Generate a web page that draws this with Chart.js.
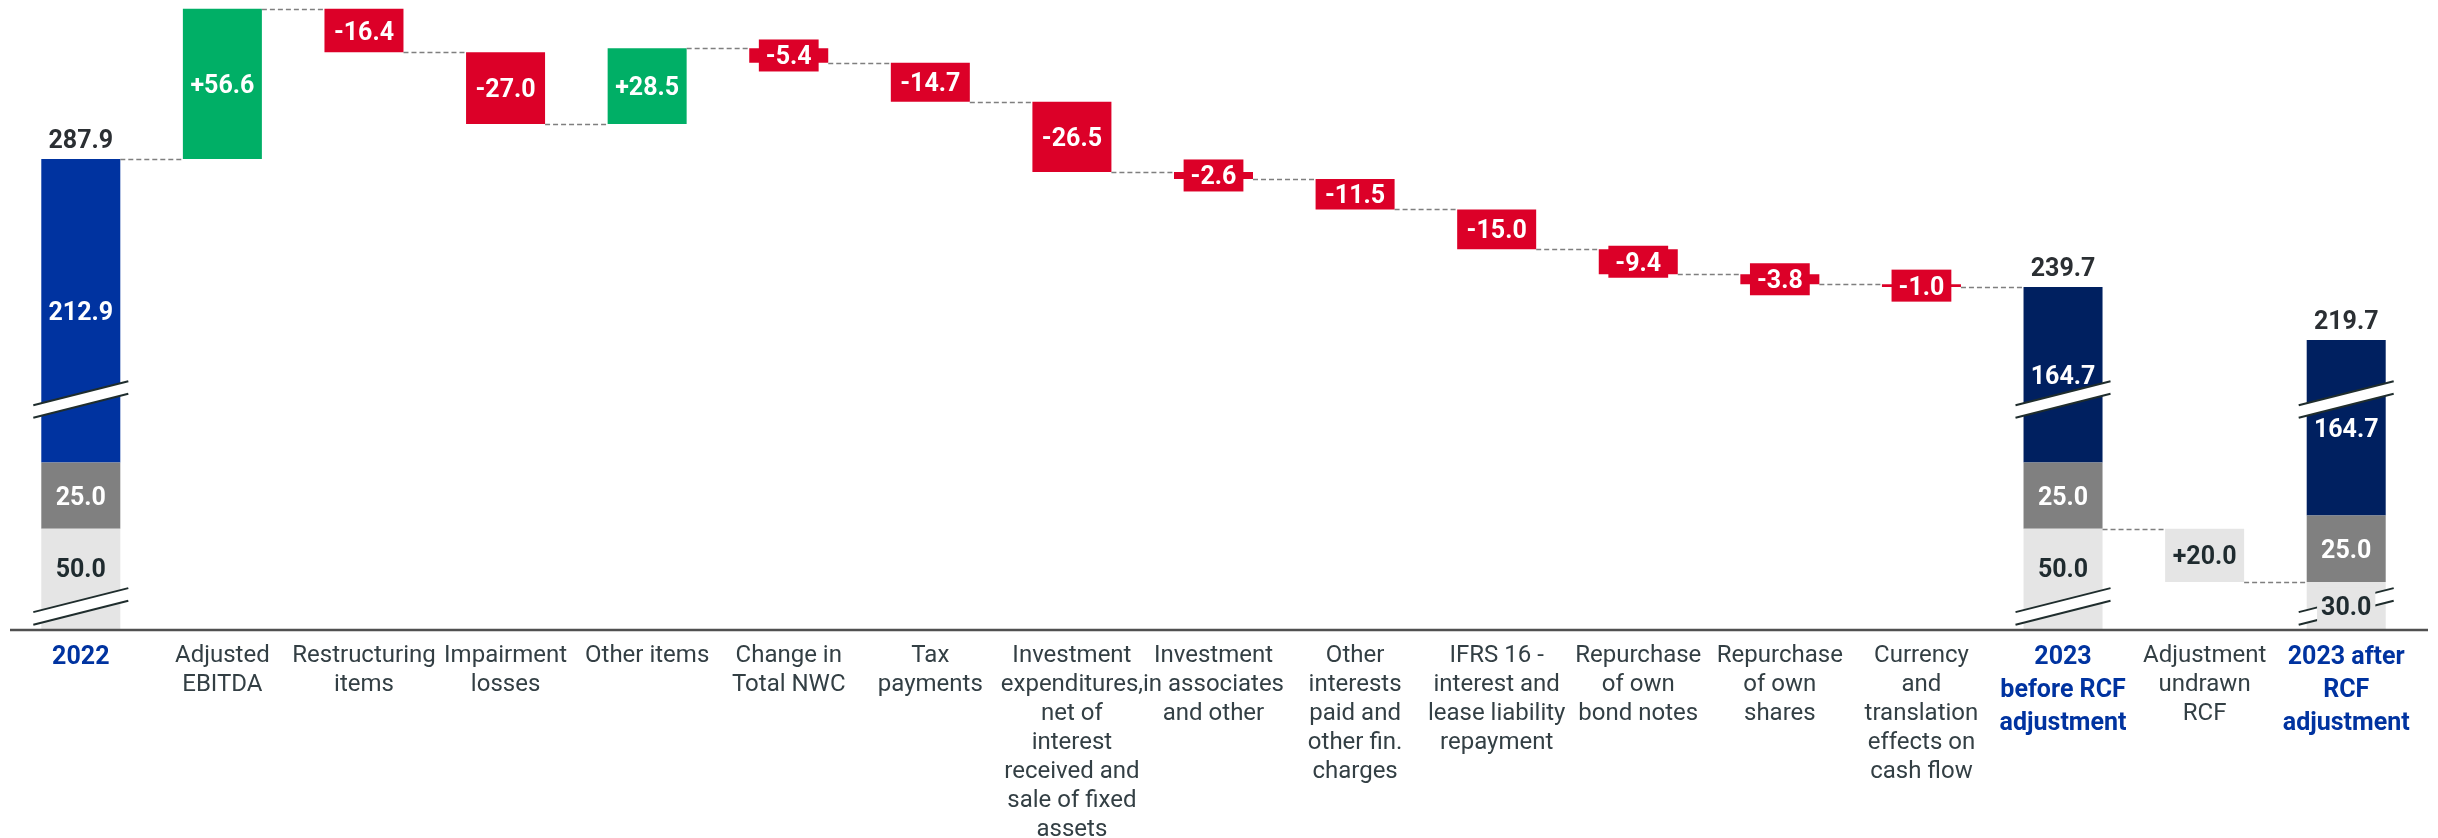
<!DOCTYPE html>
<html>
<head>
<meta charset="utf-8">
<script src="https://cdn.jsdelivr.net/npm/chart.js@4.4.1/dist/chart.umd.min.js"></script>
<style>
  html, body { margin: 0; padding: 0; background: #fff; }
</style>
</head>
<body>
<canvas id="bridge" width="2438" height="838"></canvas>
<script>
// Categories as they are printed under the axis (one entry per line)
const categories = [
    ['2022'],
    ['Adjusted', 'EBITDA'],
    ['Restructuring', 'items'],
    ['Impairment', 'losses'],
    ['Other items'],
    ['Change in', 'Total NWC'],
    ['Tax', 'payments'],
    ['Investment', 'expenditures,', 'net of', 'interest', 'received and', 'sale of fixed', 'assets'],
    ['Investment', 'in associates', 'and other'],
    ['Other', 'interests', 'paid and', 'other fin.', 'charges'],
    ['IFRS 16 -', 'interest and', 'lease liability', 'repayment'],
    ['Repurchase', 'of own', 'bond notes'],
    ['Repurchase', 'of own', 'shares'],
    ['Currency', 'and', 'translation', 'effects on', 'cash flow'],
    ['2023', 'before RCF', 'adjustment'],
    ['Adjustment', 'undrawn', 'RCF'],
    ['2023 after', 'RCF', 'adjustment']
];

// Columns that are totals (stacked) and not bridge movements
const totalIdx = [0, 14, 16];
const rcfIdx = 15;

// Bridge movements between 2022 and 2023
const movements = [null, 56.6, -16.4, -27.0, 28.5, -5.4, -14.7, -26.5, -2.6, -11.5, -15.0, -9.4, -3.8, -1.0, null, null, null];
const rcfAdjustment = 20.0;

// Composition of the three total columns
const undrawnRcf = [50.0, 50.0, 30.0];
const otherFunds = [25.0, 25.0, 25.0];
const cashPart = [212.9, 164.7, 164.7];
const totals = [287.9, 239.7, 219.7];

// Axis breaks: value range [from, to] squeezed to "size" units
const axisBreaks = [
    {from: 6, to: 24, size: 6.5},
    {from: 97, to: 199, size: 3.4}
];

const colors = {
    light: '#e5e5e5',
    dark: '#808080',
    blue: '#0033a0',
    navy: '#002060',
    green: '#00af66',
    red: '#dc0028',
    text: '#1f2b2f',
    label: '#333f44'
};

function warp(v) {
    let out = v;
    axisBreaks.forEach(function (b) {
        if (v >= b.to) {
            out -= (b.to - b.from - b.size);
        } else if (v > b.from) {
            out -= (v - b.from) * (1 - b.size / (b.to - b.from));
        }
    });
    return out;
}

// Linear scale with squeezed ranges
class BrokenScale extends Chart.LinearScale {
    getPixelForValue(value) {
        const lo = warp(this.min), hi = warp(this.max);
        return this.getPixelForDecimal((warp(value) - lo) / (hi - lo));
    }
}
BrokenScale.id = 'broken';
BrokenScale.defaults = {};
Chart.register(BrokenScale);

// Build the floating bars
const n = categories.length;
const empty = () => new Array(n).fill(null);
const lightData = empty(), darkData = empty(), blueData = empty(), navyData = empty(),
    greenData = empty(), redData = empty();
const connectLevels = empty();

totalIdx.forEach(function (ci, k) {
    lightData[ci] = [0, undrawnRcf[k]];
    darkData[ci] = [undrawnRcf[k], undrawnRcf[k] + otherFunds[k]];
    const seg = [undrawnRcf[k] + otherFunds[k], totals[k]];
    if (k === 0) {
        blueData[ci] = seg;
    } else {
        navyData[ci] = seg;
    }
});

let level = totals[0];
connectLevels[0] = level;
for (let i = 1; i < 14; i++) {
    const next = level + movements[i];
    const bar = [Math.min(level, next), Math.max(level, next)];
    if (movements[i] > 0) {
        greenData[i] = bar;
    } else {
        redData[i] = bar;
    }
    level = next;
    connectLevels[i] = level;
}
lightData[rcfIdx] = [undrawnRcf[2], undrawnRcf[2] + rcfAdjustment];
connectLevels[14] = undrawnRcf[1];
connectLevels[15] = undrawnRcf[2];

const fmt = (v) => v.toFixed(1);
const signed = (v) => (v > 0 ? '+' : '-') + Math.abs(v).toFixed(1);

// label text and colour for each dataset element
const labelFor = {
    light: (i) => i === rcfIdx ? {text: signed(rcfAdjustment), color: colors.text}
        : {text: fmt(undrawnRcf[totalIdx.indexOf(i)]), color: colors.text, onBreak: true},
    dark: (i) => ({text: fmt(otherFunds[totalIdx.indexOf(i)]), color: '#fff'}),
    blue: (i) => ({text: fmt(cashPart[totalIdx.indexOf(i)]), color: '#fff'}),
    navy: (i) => ({text: fmt(cashPart[totalIdx.indexOf(i)]), color: '#fff'}),
    green: (i) => ({text: signed(movements[i]), color: '#fff', box: colors.green}),
    red: (i) => ({text: signed(movements[i]), color: '#fff', box: colors.red})
};

const valueFont = 'bold 25px Roboto';

function barBox(el) {
    const p = el.getProps(['x', 'y', 'base', 'width'], true);
    return {
        left: p.x - p.width / 2, right: p.x + p.width / 2, x: p.x,
        top: Math.min(p.y, p.base), bottom: Math.max(p.y, p.base)
    };
}

const bridgeDecor = {
    id: 'bridgeDecor',
    afterDatasetsDraw: function (chart) {
        const ctx = chart.ctx;
        const yScale = chart.scales.y;
        const area = chart.chartArea;

        // find the bar element of any dataset at index i
        const anyBar = function (i) {
            for (let d = 0; d < chart.data.datasets.length; d++) {
                if (chart.data.datasets[d].data[i]) {
                    return barBox(chart.getDatasetMeta(d).data[i]);
                }
            }
            return null;
        };

        // dashed connectors
        ctx.save();
        ctx.strokeStyle = '#7f7f7f';
        ctx.lineWidth = 1.5;
        ctx.setLineDash([5, 3]);
        for (let i = 0; i < n - 1; i++) {
            const a = anyBar(i), b = anyBar(i + 1);
            const py = Math.round(yScale.getPixelForValue(connectLevels[i])) + 0.5;
            ctx.beginPath();
            ctx.moveTo(a.right, py);
            ctx.lineTo(b.left, py);
            ctx.stroke();
        }
        ctx.restore();

        // break symbols on the total columns
        const breakCenters = axisBreaks.map((b) => yScale.getPixelForValue((b.from + b.to) / 2));
        totalIdx.forEach(function (ci) {
            const bx = anyBar(ci);
            const half = (bx.right - bx.left) / 2 + 8;
            breakCenters.forEach(function (cy) {
                const rise = 12, gap = 6.3;
                ctx.save();
                ctx.fillStyle = '#fff';
                ctx.beginPath();
                ctx.moveTo(bx.x - half, cy + rise - gap);
                ctx.lineTo(bx.x + half, cy - rise - gap);
                ctx.lineTo(bx.x + half, cy - rise + gap);
                ctx.lineTo(bx.x - half, cy + rise + gap);
                ctx.closePath();
                ctx.fill();
                ctx.strokeStyle = '#1f2d2d';
                ctx.lineWidth = 2;
                [-gap, gap].forEach(function (g) {
                    ctx.beginPath();
                    ctx.moveTo(bx.x - half, cy + rise + g);
                    ctx.lineTo(bx.x + half, cy - rise + g);
                    ctx.stroke();
                });
                ctx.restore();
            });
        });

        // value labels
        ctx.save();
        ctx.font = valueFont;
        ctx.textAlign = 'center';
        ctx.textBaseline = 'alphabetic';
        chart.data.datasets.forEach(function (ds, d) {
            const meta = chart.getDatasetMeta(d);
            ds.data.forEach(function (v, i) {
                if (!v) {
                    return;
                }
                const bx = barBox(meta.data[i]);
                const lab = labelFor[ds.key](i);
                let cy = (bx.top + bx.bottom) / 2;
                const tw = ctx.measureText(lab.text).width;
                if (lab.onBreak) {
                    const lowBreak = breakCenters[0];
                    if (lowBreak - bx.top < 40) {
                        cy = lowBreak;
                        ctx.fillStyle = colors.light;
                        ctx.fillRect(bx.x - tw / 2 - 4, cy - 19, tw + 8, 38);
                    } else {
                        cy = (bx.top + lowBreak) / 2;
                    }
                }
                if (lab.box && bx.bottom - bx.top < 28) {
                    ctx.fillStyle = lab.box;
                    ctx.fillRect(bx.x - tw / 2 - 7, cy - 16, tw + 14, 32);
                }
                ctx.fillStyle = lab.color;
                ctx.fillText(lab.text, bx.x, cy + 9);
            });
        });

        // totals above the columns
        ctx.fillStyle = '#2b2f33';
        totalIdx.forEach(function (ci, k) {
            const bx = anyBar(ci);
            ctx.fillText(fmt(totals[k]), bx.x, yScale.getPixelForValue(totals[k]) - 11);
        });
        ctx.restore();

        // base line
        ctx.save();
        ctx.strokeStyle = '#505050';
        ctx.lineWidth = 2.5;
        ctx.beginPath();
        ctx.moveTo(area.left, area.bottom - 1);
        ctx.lineTo(chart.width - 10, area.bottom - 1);
        ctx.stroke();
        ctx.restore();
    }
};

const makeSet = (key, data, color) => ({
    key: key,
    data: data,
    backgroundColor: color,
    grouped: false,
    barPercentage: 0.558,
    categoryPercentage: 1,
    borderWidth: 0
});

new Chart(document.getElementById('bridge'), {
    type: 'bar',
    data: {
        labels: categories,
        datasets: [
            makeSet('light', lightData, colors.light),
            makeSet('dark', darkData, colors.dark),
            makeSet('blue', blueData, colors.blue),
            makeSet('navy', navyData, colors.navy),
            makeSet('green', greenData, colors.green),
            makeSet('red', redData, colors.red)
        ]
    },
    options: {
        responsive: false,
        animation: false,
        layout: {padding: {left: 10, right: 21, top: 0, bottom: 0}},
        plugins: {
            legend: {display: false},
            tooltip: {enabled: false}
        },
        scales: {
            x: {
                grid: {display: false, drawTicks: false},
                border: {display: false},
                ticks: {
                    autoSkip: false,
                    maxRotation: 0,
                    padding: 10,
                    color: (c) => totalIdx.includes(c.index) ? colors.blue : colors.label,
                    font: (c) => totalIdx.includes(c.index)
                        ? {family: 'Roboto', size: 25, weight: 'bold', lineHeight: 1.32}
                        : {family: 'Roboto', size: 24, weight: 'normal', lineHeight: 1.21}
                },
                afterFit: function (scale) {
                    scale.height = 207;
                }
            },
            y: {
                type: 'broken',
                display: false,
                min: 0,
                max: 347.8
            }
        }
    },
    plugins: [bridgeDecor]
});
</script>
</body>
</html>
